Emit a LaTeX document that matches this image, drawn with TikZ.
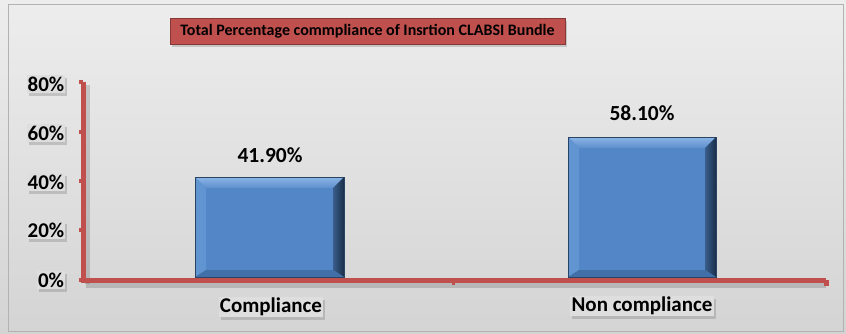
\documentclass[tikz,border=0pt]{standalone}
\usepackage{fontspec}
\setmainfont{Carlito}
\usetikzlibrary{shadows}
\definecolor{axred}{HTML}{C0504D}
\definecolor{barblue}{HTML}{5286C6}
\definecolor{bartop}{HTML}{8CB4E6}
\definecolor{barleft}{HTML}{6195D2}
\definecolor{barright}{HTML}{1A2E4A}
\definecolor{barbottom}{HTML}{416FA8}
\definecolor{bgtop}{HTML}{EDEDED}
\definecolor{bgbot}{HTML}{D4D4D4}
\definecolor{lblbox}{HTML}{DEDEDE}
\tikzset{
  axis/.style={draw=axred, line width=5pt},
  shadowline/.style={draw=black, opacity=0.15, line width=5pt},
  ticklbl/.style={font=\bfseries\fontsize{21}{23}\selectfont, fill=lblbox, inner sep=1.2pt, drop shadow={shadow xshift=2pt, shadow yshift=-3pt, opacity=0.35}},
  catlbl/.style={font=\bfseries\fontsize{21}{23}\selectfont, fill=lblbox, inner sep=1.2pt, drop shadow={shadow xshift=2pt, shadow yshift=-3pt, opacity=0.35}},
  vallbl/.style={font=\bfseries\fontsize{21.5}{23}\selectfont},
  titlebox/.style={font=\bfseries\fontsize{16}{18}\selectfont, fill=axred, draw=axred!70!black, minimum width=395pt, minimum height=26pt, inner sep=0pt, drop shadow={shadow xshift=2pt, shadow yshift=-3pt, opacity=0.35}}
}
\newcommand{\bevelbar}[5]{% name, x1, x2, ytop, ybottom
  \fill[barblue] (#2,#4) rectangle (#3,#5);
  \shade[top color=bartop, bottom color=barblue!80!bartop] (#2,#4) -- (#3,#4) -- (#3-11,#4+11) -- (#2+11,#4+11) -- cycle;
  \fill[barleft] (#2,#4) -- (#2+11,#4+11) -- (#2+11,#5-7) -- (#2,#5) -- cycle;
  \shade[left color=barblue!70!black, right color=barright] (#3,#4) -- (#3,#5) -- (#3-11,#5-7) -- (#3-11,#4+11) -- cycle;
  \fill[barbottom] (#2,#5) -- (#3,#5) -- (#3-11,#5-7) -- (#2+11,#5-7) -- cycle;
  \node[draw=barblue!50!black, line width=0.6pt, inner sep=0pt, minimum width=#3-#2, minimum height=#5-#4] (#1) at ({(#2+#3)/2},{(#4+#5)/2}) {};
}
\begin{document}
\begin{tikzpicture}[x=1pt,y=-1pt]
\useasboundingbox (0,0) rectangle (846,333);
\shade[top color=bgtop, bottom color=bgbot] (0,0) rectangle (846,333);
\draw[gray!60, line width=0.8pt] (8,4) rectangle (843,331);
% title
\node[titlebox] (title) at (367.5,31) {Total Percentage commpliance of Insrtion CLABSI Bundle};
% bars
\bevelbar{b1}{195}{344}{177}{277}
\bevelbar{b2}{568}{716}{137}{277}
% axis shadows
\draw[shadowline] (86,285) -- (826,285);
\draw[shadowline] (87,85) -- (87,284);
% axes
\coordinate (ytop) at (83,82);
\coordinate (origin) at (83,280);
\coordinate (xend) at (826,280);
\draw[axis] (ytop) -- (origin) -- (xend);
\draw[axis, line width=5pt] (826,280) -- (826,286);
\draw[axis, line width=3pt] (453,280) -- (453,285);
\foreach \yy in {82,132,181,230,280} \draw[axis, line width=4pt] (79,\yy) -- (83,\yy);
% tick labels
\node[ticklbl] (l80) at (46,84) {80\%};
\node[ticklbl] (l60) at (46,133) {60\%};
\node[ticklbl] (l40) at (46,182) {40\%};
\node[ticklbl] (l20) at (46,230) {20\%};
\node[ticklbl] (l0) at (51,280) {0\%};
% value labels
\node[vallbl] (v1) at (270,155) {41.90\%};
\node[vallbl] (v2) at (642,113) {58.10\%};
% category labels
\node[catlbl] (c1) at (271,307) {Compliance};
\node[catlbl] (c2) at (642,306) {Non compliance};
\end{tikzpicture}
\end{document}
